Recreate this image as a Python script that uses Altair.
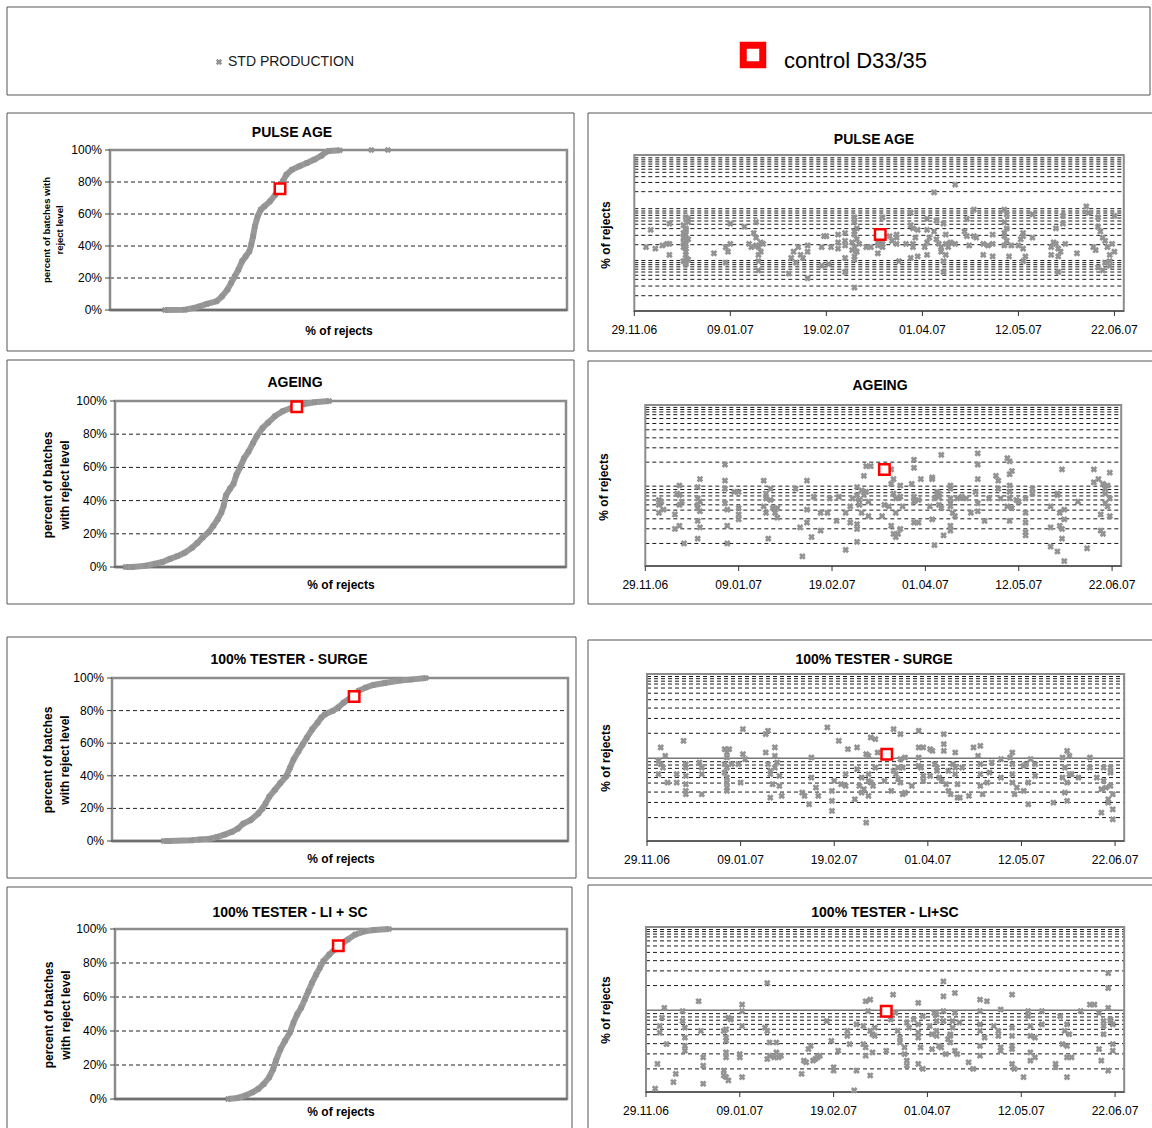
import altair as alt
import pandas as pd

FONT = "Liberation Sans"
MARK_GRAY = "#939393"
RED = "#ff0000"

# ---------------- data ----------------
PCT_TICKS = [0, 20, 40, 60, 80, 100]
PCT_GRID = [20, 40, 60, 80]
DATE_LABELS = ["29.11.06", "09.01.07", "19.02.07", "01.04.07", "12.05.07", "22.06.07"]
START = "2006-11-29"

# cumulative distribution curves: x = % of rejects (relative units), y = cumulative % of batches
PULSE_CDF_X = [12.0, 16.4, 18.4, 19.6, 21.2, 23.3, 24.5, 25.7, 26.5, 27.3, 28.1, 28.9, 29.7, 30.5, 30.9, 31.3,
               31.7, 32.3, 33.0, 33.8, 35.0, 36.2, 37.0, 37.8, 38.6, 39.8, 41.4, 43.1, 44.7, 46.3, 47.1, 47.9,
               50.3]
PULSE_CDF_Y = [0, 0.2, 1.3, 2.3, 3.8, 5.4, 8.5, 12.7, 16.9, 21.0, 25.2, 30.4, 33.5, 36.7, 40.8, 46.0,
               52.3, 58.5, 62.7, 64.8, 67.9, 72.1, 76.3, 80.4, 84.6, 87.7, 89.8, 91.9, 94.0, 96.5, 98.5, 99.4,
               99.8]
PULSE_CDF_TAIL_X = [57.2, 60.8]
PULSE_CDF_TAIL_Y = [100, 100]
AGEING_CDF_X = [2.3, 3.9, 6.8, 8.9, 10.5, 12.2, 13.8, 15.4, 17.1, 18.3, 19.4, 20.8, 21.8, 22.8, 23.6, 24.1,
                24.6, 25.5, 26.3, 26.9, 27.8, 28.6, 29.6, 30.6, 31.4, 32.7, 33.9, 35.5, 37.2, 39.2, 41.7, 44.2, 47.5]
AGEING_CDF_Y = [0, 0, 0.8, 2.0, 3.0, 4.9, 6.5, 8.5, 11.6, 14.6, 17.7, 21.1, 24.8, 28.9, 32.9, 37.0,
                43.1, 47.2, 50.2, 55.3, 60.4, 65.4, 69.5, 74.6, 78.7, 83.7, 86.8, 90.9, 93.9, 95.9, 98.0, 99.2, 100]
SURGE_CDF_X = [11.3, 12.5, 17.4, 19.4, 21.5, 23.1, 24.7, 26.3, 27.6, 28.8, 30.4, 32.1, 33.0, 33.7, 34.5, 35.7,
               36.9, 38.2, 39.0, 39.8, 40.9, 41.8, 42.7, 43.9, 45.1, 45.9, 46.7, 48.4, 49.6, 50.8, 52.4, 54.1,
               55.7, 57.3, 59.8, 63.1, 65.5, 68.8]
SURGE_CDF_Y = [0, 0, 0.4, 1.0, 1.4, 2.5, 3.9, 5.6, 7.6, 10.7, 12.8, 16.9, 20.0, 23.1, 27.2, 31.3,
               35.5, 39.6, 44.7, 49.9, 55.1, 59.2, 63.3, 68.5, 72.6, 75.7, 77.7, 79.8, 81.9, 84.9, 88.0, 92.2,
               94.2, 95.7, 96.9, 98.4, 99.0, 100]
LISC_CDF_X = [25.0, 27.1, 28.8, 30.4, 31.7, 32.9, 34.1, 35.0, 35.6, 36.6, 37.6, 38.7, 39.5, 40.3, 41.2, 42.0,
              42.8, 43.6, 44.5, 45.3, 46.1, 47.4, 48.6, 49.8, 51.5, 53.1, 55.2, 57.3, 60.6]
LISC_CDF_Y = [0, 0.6, 2.0, 3.9, 5.9, 8.8, 12.7, 17.6, 22.5, 29.3, 34.2, 39.1, 44.9, 49.8, 53.7, 58.6,
              63.5, 68.4, 73.2, 77.1, 81.1, 85.0, 87.9, 90.8, 93.8, 96.7, 98.6, 99.4, 100]

PULSE_CTRL_CDF = [37.2, 75.8]
AGEING_CTRL_CDF = [40.3, 96.5]
SURGE_CTRL_CDF = [53.1, 88.7]
LISC_CTRL_CDF = [49.4, 90.2]

# time series: days after 29.11.06 and % of rejects (relative units)
PULSE_DAY = [5, 9, 7, 12, 14, 15, 15, 15, 22, 23, 22, 21, 22, 21, 22, 22, 21, 22, 22, 22, 21, 22, 23,
             21, 22, 23, 21, 22, 23, 22,
             34, 39, 40, 41, 41, 39, 47, 51, 52, 52, 49, 52, 53, 54, 54, 53, 53, 53, 55, 50,
             66, 67, 68, 69, 70, 71, 72, 74, 74, 74, 80, 80, 81, 82, 83, 84, 87, 87, 87, 90, 90, 90, 90, 90,
             94, 94, 95, 94, 94, 93, 94, 95, 94, 94, 94, 96, 99, 101, 95, 93,
             104, 104, 106, 106, 105, 104, 106, 109, 110, 112, 112, 112, 116, 113, 118, 118, 119, 119, 119,
             120, 121, 118, 121,
             125, 125, 126, 125, 124, 125, 129, 128, 129, 130, 131, 131, 132, 132, 133, 133, 133, 132, 134,
             135, 137, 128, 137,
             141, 142, 142, 143, 145, 145, 146, 149, 149, 151, 153, 153, 153,
             158, 159, 158, 159, 158, 158, 159, 158, 160, 161, 164, 165, 166, 166, 167, 166, 166, 170, 170,
             178, 178, 179, 180, 180, 181, 182, 181, 183, 183, 181, 184, 189,
             193, 194, 198, 198, 199, 200, 201, 202, 203, 203, 204, 205, 205, 201, 203, 200, 198, 196, 197]
PULSE_VAL = [41, 40, 52, 42, 43, 43, 36, 56, 60, 57, 53, 50, 49, 47, 45, 43, 41, 38, 36, 34, 32, 30, 59,
             55, 52, 46, 44, 40, 33, 31,
             37, 31, 38, 43, 56, 41, 54, 50, 57, 47, 43, 42, 41, 44, 38, 36, 32, 26, 43, 41,
             24, 34, 38, 31, 41, 36, 34, 21, 42, 38, 41, 29, 48, 48, 30, 41, 49, 44, 40, 50, 45, 42, 34, 25,
             60, 57, 53, 51, 49, 44, 41, 38, 35, 33, 15, 43, 41, 41, 46, 39,
             44, 42, 43, 41, 45, 37, 60, 48, 45, 49, 43, 47, 43, 32, 63, 55, 53, 43, 41,
             47, 52, 34, 35,
             59, 52, 47, 44, 41, 36, 58, 51, 46, 43, 41, 38, 32, 56, 49, 43, 36, 25, 41,
             44, 43, 76, 81,
             51, 48, 59, 42, 65, 48, 47, 36, 43, 42, 35, 43, 49,
             65, 62, 57, 53, 50, 48, 45, 42, 35, 42, 42, 46, 48, 40, 35, 32, 50, 62, 47,
             36, 41, 44, 53, 43, 40, 38, 35, 56, 61, 25, 43, 37,
             67, 63, 60, 54, 51, 47, 45, 41, 36, 32, 43, 38, 61, 31, 29, 26, 28, 41, 39]

AGEING_DAY = [6, 6, 6, 7, 8, 13, 13, 14, 15, 15, 15, 16, 15, 17,
              23, 23, 24, 23, 23, 23, 24, 24, 23, 24,
              35, 35, 35, 35, 36, 36, 36, 39, 41, 41, 41, 41,
              52, 53, 53, 52, 53, 54, 55, 56, 57, 58, 58, 55,
              66, 69, 68, 71, 71, 71, 73, 74, 77, 77, 80, 81, 85, 84, 88, 88,
              90, 91, 93, 93, 94, 94, 95, 93, 93, 93, 95, 96, 97, 98, 98, 96, 97, 99, 90,
              104, 105, 107, 108, 109, 108, 109, 110, 110, 108, 109, 110, 111, 112, 112, 112, 113, 117, 118,
              118, 118, 118, 120, 121, 118, 120,
              126, 126, 125, 126, 127, 127, 128, 129, 129, 130, 129, 130, 131, 134, 134, 134, 134, 135, 136,
              134, 134, 137, 134,
              139, 141, 143, 145, 146, 146, 146, 146, 146, 149, 151, 154, 155, 155, 156,
              159, 160, 161, 160, 160, 160, 160, 159, 161, 160, 163, 164, 167, 167, 167, 167, 167, 170, 170,
              178, 178, 178, 181, 181, 182, 182, 183, 183, 183, 184, 184, 181, 184, 190, 194,
              197, 197, 199, 200, 200, 201, 201, 202, 202, 203, 203, 204, 204, 204, 202]
AGEING_VAL = [41, 38, 33, 40, 35, 23, 32, 45, 50, 44, 38, 40, 25, 14,
              17, 28, 54, 49, 42, 38, 34, 24, 36, 40,
              63, 53, 48, 39, 35, 25, 14, 46, 46, 36, 32, 29,
              53, 45, 42, 37, 33, 17, 48, 36, 33, 30, 36, 41,
              48, 6, 24, 53, 35, 27, 18, 43, 22, 33, 33, 42, 43, 28, 10, 33,
              37, 42, 44, 49, 41, 38, 33, 15, 26, 23, 47, 44, 46, 40, 31, 56, 62, 62, 27,
              31, 38, 37, 60, 54, 51, 45, 42, 33, 25, 20, 18, 20, 23, 50, 43, 37, 51, 66,
              61, 43, 40, 41, 54, 27, 27,
              55, 54, 37, 29, 13, 42, 46, 45, 43, 69, 38, 36, 19, 50, 48, 42, 37, 33, 31,
              25, 22, 42, 39,
              43, 42, 33, 46, 70, 63, 54, 39, 34, 28, 42, 56, 53, 48, 42,
              67, 65, 59, 57, 50, 46, 42, 37, 36, 28, 41, 40, 42, 33, 27, 19, 21, 48, 45,
              37, 24, 12, 45, 44, 33, 25, 23, 60, 17, 35, 29, 9, 3, 40, 11,
              60, 52, 54, 32, 22, 20, 51, 48, 45, 50, 37, 31, 58, 42, 39]

SURGE_DAY = [5, 6, 6, 8, 7, 9, 5, 13, 13, 16, 17, 17, 17, 17, 17, 17, 23, 24, 24, 24,
             34, 35, 35, 34, 35, 34, 35, 35, 35, 35, 36, 37, 40, 42, 42, 43, 41,
             52, 53, 52, 53, 54, 54, 55, 56, 56, 57, 58, 54, 58, 59, 56,
             68, 69, 72, 72, 71, 74, 75, 79, 81, 81, 81, 82, 84, 85, 87, 87, 88, 91, 92, 92, 93, 94, 94, 95,
             96, 96, 97, 97, 97, 98, 98, 100, 101, 100, 99, 97,
             104, 107, 108, 108, 109, 110, 111, 111, 111, 112, 113, 113, 112, 110, 116, 119, 119, 119, 119,
             120, 121, 121, 121,
             124, 125, 124, 126, 127, 127, 128, 129, 130, 130, 130, 131, 132, 132, 133, 134, 135, 135, 135,
             136, 136, 137, 138,
             141, 143, 145, 146, 146, 146, 146, 147, 149, 150, 151, 155, 155, 159, 160, 160, 160, 160, 161,
             162, 165, 165, 166, 167, 167, 168, 170, 170,
             178, 182, 183, 182, 183, 184, 184, 185, 185, 184, 186, 189, 194, 194,
             197, 199, 199, 200, 200, 201, 202, 202, 203, 203, 203, 204, 204, 204]
SURGE_VAL = [40, 56, 46, 51, 44, 35, 48, 40, 35, 60, 46, 44, 39, 34, 28, 30, 47, 44, 40, 28,
             55, 53, 50, 46, 44, 41, 38, 35, 32, 30, 55, 46, 46, 67, 52, 49, 35,
             64, 66, 53, 46, 42, 40, 34, 56, 51, 47, 39, 26, 33, 27, 44,
             29, 27, 38, 50, 22, 32, 27, 68, 30, 24, 18, 36, 60, 34, 40, 33, 55, 25, 56, 43, 33, 38, 29, 31,
             11, 52, 40, 36, 51, 62, 35, 61, 53, 44, 33, 27,
             36, 30, 67, 42, 40, 44, 64, 49, 35, 28, 29, 50, 44, 37, 33, 66, 56, 50, 45,
             44, 56, 39, 36,
             55, 54, 39, 46, 44, 42, 38, 36, 64, 58, 54, 34, 42, 30, 28, 46, 44, 53, 40,
             34, 26, 26, 44,
             27, 56, 51, 57, 46, 40, 33, 28, 35, 41, 47, 49, 38, 50, 53, 46, 40, 35, 28,
             32, 30, 45, 46, 22, 35, 49, 39, 46,
             23, 50, 44, 38, 29, 24, 54, 51, 40, 35, 40, 38, 50, 44,
             38, 17, 31, 44, 36, 32, 25, 23, 44, 33, 41, 19, 13, 28]

LISC_DAY = [4, 5, 6, 6, 7, 8, 9, 12, 13, 16, 16, 17, 17, 17, 17, 23, 24, 25, 25, 25,
            34, 35, 35, 35, 35, 35, 36, 37, 34, 35, 36, 34, 41, 41, 42, 42, 42, 42,
            52, 53, 53, 54, 54, 56, 57, 57, 58, 59, 53,
            68, 69, 70, 71, 72, 73, 74, 75, 76, 79, 81, 82, 82, 84, 88, 88, 89, 91, 92, 92, 95, 95, 96, 96,
            96, 97, 98, 98, 98, 99, 99, 100, 100,
            105, 107, 108, 109, 110, 111, 111, 113, 113, 114, 114, 114, 115, 117, 119, 119, 119, 119, 120,
            121, 119, 121,
            124, 125, 125, 126, 127, 127, 127, 127, 128, 129, 130, 130, 130, 130, 131, 132, 133, 133, 133,
            134, 134, 135, 135, 135, 136, 137,
            141, 143, 146, 146, 146, 146, 146, 146, 148, 149, 152, 154, 154, 155, 155, 155,
            160, 160, 160, 160, 160, 160, 161, 165, 167, 167, 168, 168, 168, 168, 170, 170, 173, 173,
            179, 179, 181, 182, 183, 184, 184, 184, 184, 185, 186, 190,
            194, 196, 198, 198, 199, 200, 200, 200, 202, 202, 202, 202, 203, 203, 204, 204, 204]
LISC_VAL = [2, 17, 40, 36, 45, 51, 29, 6, 11, 49, 43, 39, 33, 28, 25, 55, 37, 21, 16, 5,
            37, 38, 33, 31, 24, 21, 45, 44, 13, 9, 7, 10, 21, 23, 40, 53, 49, 9,
            39, 37, 66, 30, 22, 21, 30, 24, 21, 22, 20,
            11, 19, 18, 26, 28, 19, 20, 21, 22, 43, 31, 15, 13, 25, 37, 34, 29, 1, 41, 13, 40, 29, 27, 22,
            55, 49, 37, 10, 56, 35, 24, 39, 34,
            25, 44, 59, 48, 37, 33, 30, 27, 23, 19, 16, 42, 39, 44, 54, 41, 36, 33, 27,
            46, 17, 14,
            40, 35, 26, 48, 43, 37, 47, 34, 28, 27, 43, 58, 67, 49, 23, 32, 34, 30, 35,
            39, 43, 60, 48, 25, 23, 42,
            18, 14, 56, 49, 41, 37, 28, 22, 33, 55, 40, 34, 37, 50, 27, 25,
            39, 34, 28, 26, 59, 17, 14, 9, 49, 46, 40, 34, 24, 19, 21, 33, 49, 41,
            15, 17, 46, 29, 37, 28, 21, 9, 41, 35, 21, 49,
            53, 53, 48, 26, 19, 43, 35, 40, 13, 72, 63, 51, 44, 43, 41, 29, 25]

PULSE_CTRL_TS = [105, 49]
AGEING_CTRL_TS = [105, 60]
SURGE_CTRL_TS = [105, 52]
LISC_CTRL_TS = [105, 49]

# horizontal gridlines of the time-series charts (relative units)
GRID_PULSE = [9.8, 16.0, 20.3, 22.9, 25.0, 26.8, 28.3, 29.7, 31.0, 32.4,
              42.5, 48.5, 52.8, 55.6, 57.7, 59.6, 61.3, 62.8, 64.1, 65.6,
              76.5, 82.4, 86.1, 88.9, 90.9, 92.7, 94.2, 95.6, 96.9, 98.2]
GRID_STD = [14.0, 23.1, 29.3, 34.7, 38.0, 41.0, 43.5, 45.5, 47.5,
            64.5, 73.4, 79.6, 84.6, 88.5, 91.6, 94.0, 95.7, 97.2, 98.5]
GRID_LIMIT = [49.6]


# ---------------- helpers ----------------
def box(x0, y0, x1, y1):
    return alt.Chart().mark_rect(fillOpacity=0, stroke="#555555", strokeWidth=1).encode(
        x=alt.value(x0), x2=alt.value(x1), y=alt.value(y0), y2=alt.value(y1))


def label(text, x, y, size=12, bold=True, angle=0, align="center", line_height=None, color="#000000"):
    kw = dict(text=text, font=FONT, fontSize=size, fontWeight="bold" if bold else "normal",
              align=align, baseline="middle", color=color)
    if angle:
        kw["angle"] = angle
    if line_height:
        kw["lineHeight"] = line_height
    return alt.Chart().mark_text(**kw).encode(x=alt.value(x), y=alt.value(y))


def xmark(df, X, Y, size=44):
    return alt.Chart(df).mark_point(shape="cross", angle=45, filled=True, size=size, color=MARK_GRAY,
                                    opacity=1).encode(x=X, y=Y)


def cdf_panel(cx, cy, ctrl, xr, yr, tail_x=None, tail_y=None):
    xs = alt.Scale(domain=[0, 100], range=xr, nice=False, zero=False)
    ys = alt.Scale(domain=[0, 100], range=yr, nice=False, zero=False)

    def xd(v):
        return alt.XDatum(v, type="quantitative", scale=xs, axis=None)

    def yd(v):
        return alt.YDatum(v, type="quantitative", scale=ys, axis=None)

    ticks = pd.DataFrame({"pct": PCT_TICKS, "lab": [f"{p}%" for p in PCT_TICKS]})
    grid = pd.DataFrame({"pct": PCT_GRID})
    curve = pd.DataFrame({"rej": cx, "cum": cy})
    cdf = pd.DataFrame({"rej": [ctrl[0]], "cum": [ctrl[1]]})
    Yp = alt.Y("pct:Q", scale=ys, axis=None)
    Xr = alt.X("rej:Q", scale=xs, axis=None)
    Yc = alt.Y("cum:Q", scale=ys, axis=None)

    layers = [
        alt.Chart(grid).mark_rule(color="#222222", strokeDash=[4, 3], strokeWidth=1).encode(
            y=Yp, x=xd(0), x2=alt.X2Datum(100)),
        alt.Chart().mark_rect(fillOpacity=0, stroke="#8c8c8c", strokeWidth=2.5).encode(
            x=xd(0), x2=alt.X2Datum(100), y=yd(0), y2=alt.Y2Datum(100)),
        alt.Chart().mark_rule(color="#6e6e6e", strokeWidth=2.5).encode(
            x=xd(0), x2=alt.X2Datum(100), y=yd(0)),
        alt.Chart(ticks).mark_rule(color="#444444", strokeWidth=1, x2Offset=-5).encode(
            y=Yp, x=xd(0), x2=alt.X2Datum(0)),
        alt.Chart(ticks).mark_text(font=FONT, fontSize=12, align="right", baseline="middle",
                                   dx=-8, color="#000000").encode(y=Yp, x=xd(0), text="lab:N"),
        alt.Chart(curve).mark_line(color="#999999", strokeWidth=6).encode(x=Xr, y=Yc),
        xmark(curve, Xr, Yc, 40),
    ]
    if tail_x:
        layers.append(xmark(pd.DataFrame({"rej": tail_x, "cum": tail_y}), Xr, Yc, 40))
    layers.append(alt.Chart(cdf).mark_point(shape="square", size=110, filled=True, fill="white", stroke=RED,
                                            strokeWidth=2.5, opacity=1).encode(x=Xr, y=Yc))
    return layers


def ts_panel(days, vals, ctrl, grid_dash, grid_solid, xr, yr):
    d0 = alt.DateTime(year=2006, month=11, date=29)
    d1 = alt.DateTime(year=2007, month=6, date=26)
    xs = alt.Scale(domain=[d0, d1], range=xr, nice=False)
    ys = alt.Scale(domain=[0, 100], range=yr, nice=False, zero=False)

    def xd(v):
        return alt.XDatum(v, type="temporal", scale=xs, axis=None)

    def yd(v):
        return alt.YDatum(v, type="quantitative", scale=ys, axis=None)

    start = pd.Timestamp(START)
    pts_df = pd.DataFrame({"date": start + pd.to_timedelta(days, unit="D"), "val": vals})
    ctrl_df = pd.DataFrame({"date": [start + pd.Timedelta(days=ctrl[0])], "val": [ctrl[1]]})
    ticks = pd.DataFrame({"date": pd.to_datetime(DATE_LABELS, format="%d.%m.%y"), "lab": DATE_LABELS})
    Xd = alt.X("date:T", scale=xs, axis=None)
    Yv = alt.Y("val:Q", scale=ys, axis=None)

    layers = []
    layers.append(alt.Chart(pd.DataFrame({"val": grid_dash})).mark_rule(
        color="#1a1a1a", strokeDash=[4, 3], strokeWidth=1).encode(y=Yv, x=xd(d0), x2=alt.X2Datum(d1)))
    if grid_solid:
        layers.append(alt.Chart(pd.DataFrame({"val": grid_solid})).mark_rule(
            color="#333333", strokeWidth=1).encode(y=Yv, x=xd(d0), x2=alt.X2Datum(d1)))
    layers.append(alt.Chart().mark_rect(fillOpacity=0, stroke="#8c8c8c", strokeWidth=2).encode(
        x=xd(d0), x2=alt.X2Datum(d1), y=yd(0), y2=alt.Y2Datum(100)))
    layers.append(alt.Chart().mark_rule(color="#333333", strokeWidth=1.2).encode(
        x=xd(d0), x2=alt.X2Datum(d1), y=yd(0)))
    layers.append(alt.Chart(ticks).mark_rule(color="#333333", strokeWidth=1, y2Offset=5).encode(
        x=Xd, y=yd(0), y2=alt.Y2Datum(0)))
    layers.append(alt.Chart(ticks).mark_text(font=FONT, fontSize=12, baseline="middle", dy=19,
                                             color="#000000").encode(x=Xd, y=yd(0), text="lab:N"))
    layers.append(xmark(pts_df, Xd, Yv, 46))
    layers.append(alt.Chart(ctrl_df).mark_point(shape="square", size=110, filled=True, fill="white",
                                                stroke=RED, strokeWidth=2.5, opacity=1).encode(x=Xd, y=Yv))
    return layers


# ---------------- assemble ----------------
panels = []

legend = alt.layer(
    box(7, 7, 1150, 95),
    alt.Chart().mark_point(shape="cross", angle=45, filled=True, size=40, color=MARK_GRAY, opacity=1).encode(
        x=alt.value(219), y=alt.value(62)),
    label("STD PRODUCTION", 228, 62, size=14, bold=False, align="left", color="#1a1a1a"),
    alt.Chart().mark_point(shape="square", size=380, filled=True, fill="white", stroke=RED,
                           strokeWidth=7, opacity=1).encode(x=alt.value(753), y=alt.value(55)),
    label("control D33/35", 784, 61, size=22, bold=False, align="left"),
)
panels.append(legend)

YT1 = ["percent of batches with", "reject level"]
YT = ["percent of batches", "with reject level"]

# row 1
panels.append(alt.layer(
    box(7, 113, 574, 351),
    *cdf_panel(PULSE_CDF_X, PULSE_CDF_Y, PULSE_CTRL_CDF, [110, 567], [310, 150],
               PULSE_CDF_TAIL_X, PULSE_CDF_TAIL_Y),
    label("PULSE AGE", 292, 133, size=14),
    label("% of rejects", 339, 331, size=12),
    label(YT1, 47, 230, size=9.5, angle=270, line_height=13),
))
panels.append(alt.layer(
    box(588, 113, 1162, 351),
    *ts_panel(PULSE_DAY, PULSE_VAL, PULSE_CTRL_TS, GRID_PULSE, [], [634.3, 1123.8], [311, 155]),
    label("PULSE AGE", 874, 140, size=14),
    label("% of rejects", 606, 235, size=12, angle=270),
))

# row 2
panels.append(alt.layer(
    box(7, 360, 574, 604),
    *cdf_panel(AGEING_CDF_X, AGEING_CDF_Y, AGEING_CTRL_CDF, [115, 566], [567, 401]),
    label("AGEING", 295, 383, size=14),
    label("% of rejects", 341, 585, size=12),
    label(YT, 48, 485, size=12, angle=270, line_height=17),
))
panels.append(alt.layer(
    box(588, 361, 1162, 604),
    *ts_panel(AGEING_DAY, AGEING_VAL, AGEING_CTRL_TS, GRID_STD + GRID_LIMIT, [], [645.3, 1121.2], [566, 405]),
    label("AGEING", 880, 386, size=14),
    label("% of rejects", 604, 487, size=12, angle=270),
))

# row 3
panels.append(alt.layer(
    box(7, 637, 576, 878),
    *cdf_panel(SURGE_CDF_X, SURGE_CDF_Y, SURGE_CTRL_CDF, [112, 568], [841, 678]),
    label("100% TESTER  - SURGE", 289, 660, size=14),
    label("% of rejects", 341, 859, size=12),
    label(YT, 48, 760, size=12, angle=270, line_height=17),
))
panels.append(alt.layer(
    box(588, 640, 1162, 878),
    *ts_panel(SURGE_DAY, SURGE_VAL, SURGE_CTRL_TS, GRID_STD, GRID_LIMIT, [647, 1124.2], [841, 674]),
    label("100% TESTER - SURGE", 874, 660, size=14),
    label("% of rejects", 606, 758, size=12, angle=270),
))

# row 4
panels.append(alt.layer(
    box(7, 887, 572, 1140),
    *cdf_panel(LISC_CDF_X, LISC_CDF_Y, LISC_CTRL_CDF, [115, 567], [1099, 929]),
    label("100% TESTER  - LI + SC", 290, 913, size=14),
    label("% of rejects", 341, 1112, size=12),
    label(YT, 49, 1015, size=12, angle=270, line_height=17),
))
panels.append(alt.layer(
    box(588, 885, 1162, 1140),
    *ts_panel(LISC_DAY, LISC_VAL, LISC_CTRL_TS, GRID_STD, GRID_LIMIT, [646, 1124.2], [1092, 927]),
    label("100% TESTER - LI+SC", 885, 913, size=14),
    label("% of rejects", 606, 1010, size=12, angle=270),
))

chart = alt.layer(*panels).resolve_scale(x="independent", y="independent").properties(
    width=1152, height=1128, padding=0, background="white",
    autosize=alt.AutoSizeParams(type="none"),
).configure_view(strokeWidth=0)

chart.save("out.html", embed_options={"renderer": "svg", "actions": False})
